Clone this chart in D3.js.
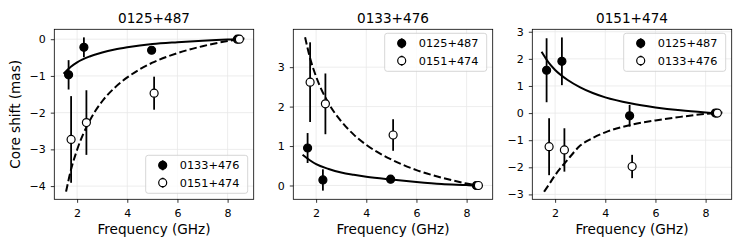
<!DOCTYPE html>
<html>
<head>
<meta charset="utf-8">
<script src="https://cdn.jsdelivr.net/npm/d3@7"></script>
<style>
  body { margin: 0; background: #fff; }
  text { font-family: "DejaVu Sans", sans-serif; fill: #000; }
</style>
</head>
<body>
<div id="chart"></div>
<script>
// measured frequencies (GHz), the two series are slightly offset
const freqFilled = [1.66, 2.27, 4.97, 8.39];
const freqOpen = [1.76, 2.37, 5.07, 8.47];

// fitted curves
const solidFreq = [1.46, 1.75, 2, 2.5, 3, 3.5, 4, 5, 6, 7, 8, 8.59];
const dashFreq = [1.56, 1.75, 2, 2.5, 3, 3.5, 4, 5, 6, 7, 8, 8.67];

const titles = ["0125+487", "0133+476", "0151+474"];
const filledNames = ["0133+476", "0125+487", "0125+487"];
const openNames = ["0151+474", "0151+474", "0133+476"];

const p1Filled = [-0.97, -0.22, -0.30, 0];
const p1FilledErr = [0.40, 0.27, 0.10, 0];
const p1Open = [-2.73, -2.27, -1.47, 0];
const p1OpenErr = [1.18, 0.88, 0.45, 0];
const p1Solid = [-0.94, -0.75, -0.63, -0.47, -0.36, -0.28, -0.22, -0.13, -0.08, -0.04, -0.01, 0.01];
const p1Dash = [-4.15, -3.57, -3.01, -2.22, -1.69, -1.32, -1.04, -0.64, -0.38, -0.19, -0.05, 0.02];

const p2Filled = [0.95, 0.14, 0.16, 0];
const p2FilledErr = [0.38, 0.27, 0.10, 0];
const p2Open = [2.62, 2.07, 1.28, 0];
const p2OpenErr = [1.01, 0.77, 0.40, 0];
const p2Solid = [0.78, 0.64, 0.54, 0.42, 0.33, 0.27, 0.22, 0.15, 0.09, 0.04, 0.01, -0.01];
const p2Dash = [3.76, 3.25, 2.76, 2.08, 1.63, 1.29, 1.03, 0.66, 0.39, 0.20, 0.05, -0.03];

const p3Filled = [1.58, 1.91, -0.10, 0];
const p3FilledErr = [1.18, 0.88, 0.40, 0];
const p3Open = [-1.24, -1.36, -1.97, 0];
const p3OpenErr = [1.05, 0.80, 0.43, 0];
const p3Solid = [2.26, 1.85, 1.59, 1.22, 0.95, 0.74, 0.58, 0.36, 0.21, 0.10, 0.02, -0.02];
const p3Dash = [-2.90, -2.64, -2.29, -1.72, -1.20, -0.92, -0.71, -0.44, -0.27, -0.14, -0.03, 0.02];

const xTicks = [2, 4, 6, 8];
const yTicks = [[-4, -3, -2, -1, 0], [0, 1, 2, 3], [-3, -2, -1, 0, 1, 2, 3]];
const yDomains = [[-4.36, 0.27], [-0.35, 3.96], [-3.18, 3.09]];
const xDomain = [1.09, 9.04];

const panels = [
    {filled: p1Filled, filledErr: p1FilledErr, open: p1Open, openErr: p1OpenErr, solid: p1Solid, dash: p1Dash},
    {filled: p2Filled, filledErr: p2FilledErr, open: p2Open, openErr: p2OpenErr, solid: p2Solid, dash: p2Dash},
    {filled: p3Filled, filledErr: p3FilledErr, open: p3Open, openErr: p3OpenErr, solid: p3Solid, dash: p3Dash}
];

const svgWidth = 747;
const svgHeight = 249;
const panelLefts = [54.3, 293.3, 532.3];
const panelWidth = 199.4;
const plotTop = 29.3;
const panelHeight = 170;
const legendBottom = [true, false, false];

const svg = d3.select("#chart")
    .append("svg")
    .attr("width", svgWidth)
    .attr("height", svgHeight);

panels.forEach((p, i) => {
    const g = svg.append("g")
        .attr("transform", `translate(${panelLefts[i]}, ${plotTop})`);

    const xScale = d3.scaleLinear().domain(xDomain).range([0, panelWidth]);
    const yScale = d3.scaleLinear().domain(yDomains[i]).range([panelHeight, 0]);

    // grid
    g.selectAll(".xgrid")
        .data(xTicks)
        .enter()
        .append("line")
        .attr("x1", d => xScale(d)).attr("x2", d => xScale(d))
        .attr("y1", 0).attr("y2", panelHeight)
        .attr("stroke", "#e8e8e8").attr("stroke-width", 0.8);
    g.selectAll(".ygrid")
        .data(yTicks[i])
        .enter()
        .append("line")
        .attr("x1", 0).attr("x2", panelWidth)
        .attr("y1", d => yScale(d)).attr("y2", d => yScale(d))
        .attr("stroke", "#e8e8e8").attr("stroke-width", 0.8);

    // fitted curves
    const solidLine = d3.line()
        .x((d, j) => xScale(solidFreq[j]))
        .y(d => yScale(d))
        .curve(d3.curveMonotoneX);
    const dashLine = d3.line()
        .x((d, j) => xScale(dashFreq[j]))
        .y(d => yScale(d))
        .curve(d3.curveMonotoneX);

    g.append("path")
        .attr("d", solidLine(p.solid))
        .attr("fill", "none").attr("stroke", "#000").attr("stroke-width", 2);
    g.append("path")
        .attr("d", dashLine(p.dash))
        .attr("fill", "none").attr("stroke", "#000").attr("stroke-width", 2)
        .attr("stroke-dasharray", "7.4,3.2");

    // error bars and points
    const drawSeries = (freqs, vals, errs, fill) => {
        g.selectAll(null)
            .data(vals)
            .enter()
            .append("line")
            .attr("x1", (d, j) => xScale(freqs[j]))
            .attr("x2", (d, j) => xScale(freqs[j]))
            .attr("y1", (d, j) => yScale(d - errs[j]))
            .attr("y2", (d, j) => yScale(d + errs[j]))
            .attr("stroke", "#000").attr("stroke-width", 1.8);
        g.selectAll(null)
            .data(vals)
            .enter()
            .append("circle")
            .attr("cx", (d, j) => xScale(freqs[j]))
            .attr("cy", d => yScale(d))
            .attr("r", 4)
            .attr("fill", fill)
            .attr("stroke", "#000").attr("stroke-width", 1.2);
    };
    drawSeries(freqFilled, p.filled, p.filledErr, "#000");
    drawSeries(freqOpen, p.open, p.openErr, "#fff");

    // axes
    const xAxis = d3.axisBottom(xScale).tickValues(xTicks).tickSize(3.5).tickPadding(6).tickFormat(d3.format("d"));
    const yAxis = d3.axisLeft(yScale).tickValues(yTicks[i]).tickSize(3.5).tickPadding(5).tickFormat(d3.format("d"));

    const xg = g.append("g")
        .attr("transform", `translate(0, ${panelHeight})`)
        .call(xAxis);
    const yg = g.append("g").call(yAxis);
    [xg, yg].forEach(a => {
        a.select(".domain").remove();
        a.selectAll("line").attr("stroke", "#000").attr("stroke-width", 0.8);
        a.selectAll("text").attr("font-size", 11).attr("font-family", "DejaVu Sans");
    });

    g.append("rect")
        .attr("width", panelWidth).attr("height", panelHeight)
        .attr("fill", "none").attr("stroke", "#000").attr("stroke-width", 0.8);

    // title and x label
    g.append("text")
        .attr("x", panelWidth / 2).attr("y", -6)
        .attr("text-anchor", "middle")
        .attr("font-size", 13.6)
        .text(titles[i]);
    g.append("text")
        .attr("x", panelWidth / 2).attr("y", panelHeight + 35)
        .attr("text-anchor", "middle")
        .attr("font-size", 13.6)
        .text("Frequency (GHz)");

    // legend
    const lw = 102, lh = 38;
    const lx = panelWidth - lw - 6;
    const ly = legendBottom[i] ? panelHeight - lh - 6 : 4;
    const leg = g.append("g").attr("transform", `translate(${lx}, ${ly})`);
    leg.append("rect")
        .attr("width", lw).attr("height", lh).attr("rx", 2.5)
        .attr("fill", "#fff").attr("fill-opacity", 0.8)
        .attr("stroke", "#ccc").attr("stroke-width", 0.8);
    [[filledNames[i], "#000"], [openNames[i], "#fff"]].forEach((e, k) => {
        const cy = 10 + k * 17.4;
        leg.append("line")
            .attr("x1", 17).attr("x2", 17)
            .attr("y1", cy - 5).attr("y2", cy + 5)
            .attr("stroke", "#000").attr("stroke-width", 1.8);
        leg.append("circle")
            .attr("cx", 17).attr("cy", cy).attr("r", 4)
            .attr("fill", e[1]).attr("stroke", "#000").attr("stroke-width", 1.2);
        leg.append("text")
            .attr("x", 34).attr("y", cy + 4)
            .attr("font-size", 11.3)
            .text(e[0]);
    });
});

svg.append("text")
    .attr("transform", `translate(20, ${plotTop + panelHeight / 2}) rotate(-90)`)
    .attr("text-anchor", "middle")
    .attr("font-size", 13.6)
    .text("Core shift (mas)");
</script>
</body>
</html>
